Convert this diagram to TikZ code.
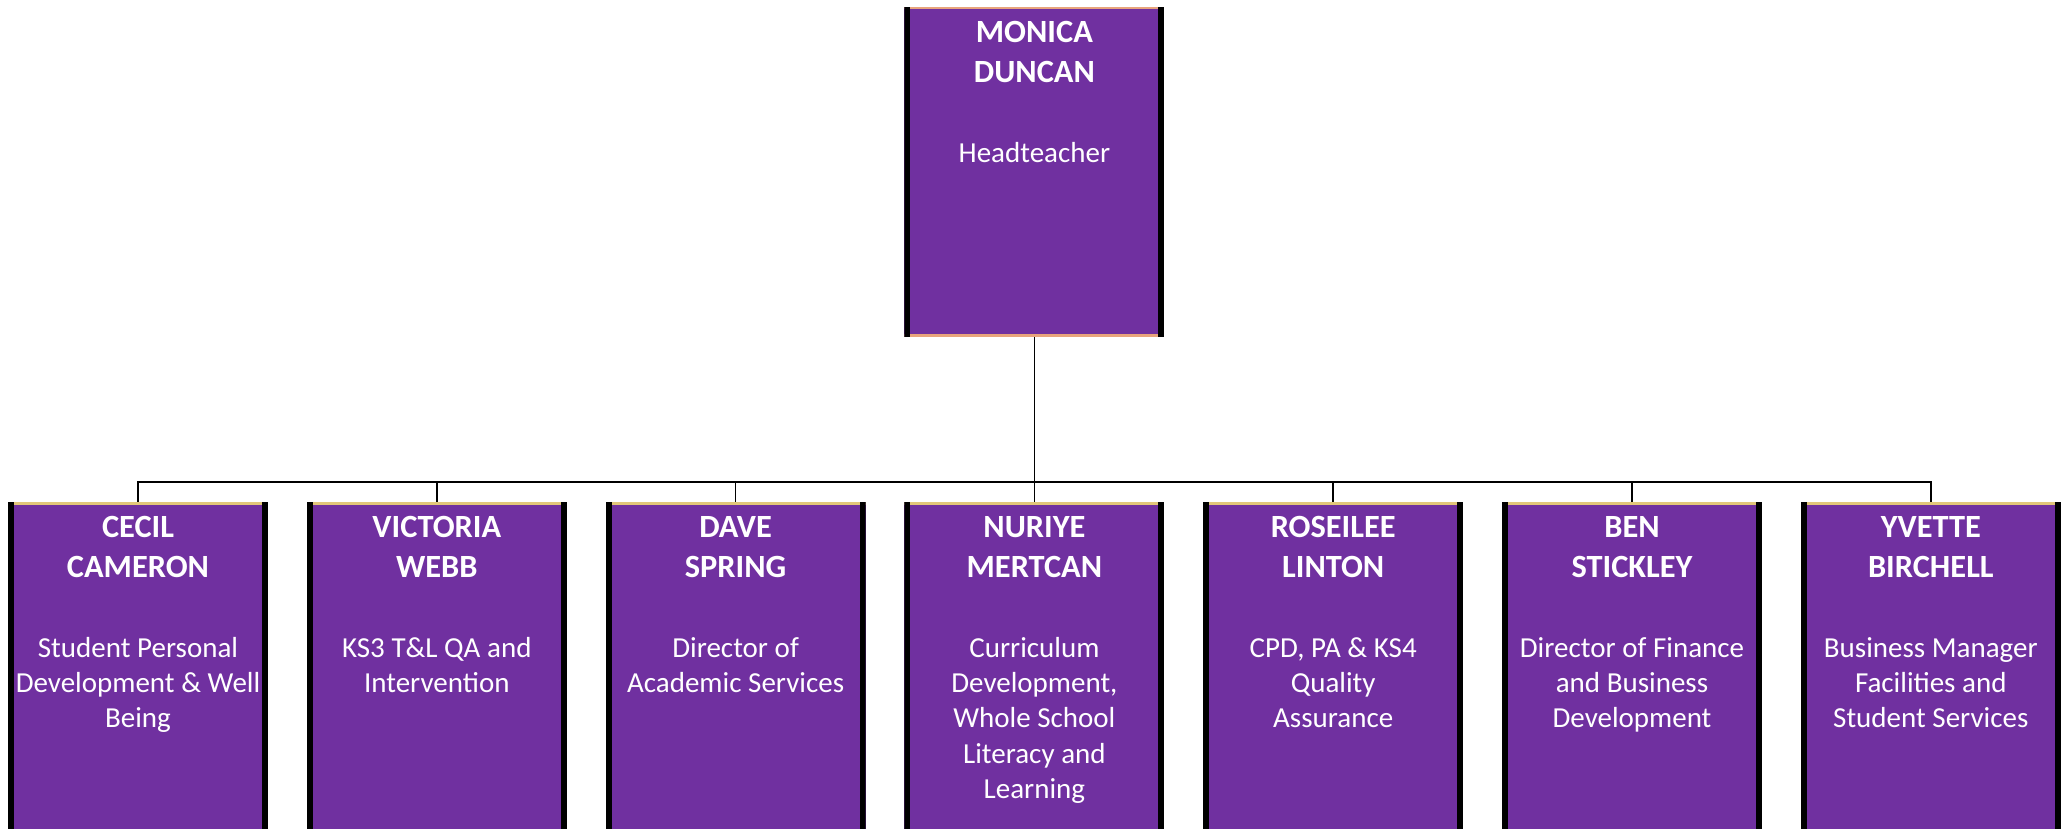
\documentclass[tikz,border=0pt]{standalone}
\usepackage{fontspec}
\setmainfont{Carlito}
\definecolor{boardpurple}{RGB}{112,48,160}
\definecolor{headedge}{RGB}{232,164,124}
\definecolor{staffedge}{RGB}{226,198,122}
\usetikzlibrary{positioning}
\newcommand{\cardname}[2]{{\bfseries\fontsize{16.2pt}{20pt}\selectfont #1\\#2\par}\vspace{22.5pt}}
\newcommand{\cardrole}[1]{{\fontsize{14.5pt}{17.6pt}\selectfont #1\par}}

\begin{document}
\begin{tikzpicture}[node distance=19pt,
  card/.style={fill=boardpurple,text=white,text width=130pt,align=center,inner sep=0pt,text height=17.5pt},
  staff/.style={card,text depth=182.5pt,path picture={
    \fill[staffedge] (path picture bounding box.north west) rectangle ([yshift=-1.5pt]path picture bounding box.north east);
    \fill[black] (path picture bounding box.north west) rectangle ([xshift=3pt]path picture bounding box.south west);
    \fill[black] (path picture bounding box.north east) rectangle ([xshift=-3pt]path picture bounding box.south east);}},
  head/.style={card,text height=18pt,text depth=147pt,path picture={
    \fill[headedge] (path picture bounding box.north west) rectangle ([yshift=-1.2pt]path picture bounding box.north east);
    \fill[headedge] (path picture bounding box.south west) rectangle ([yshift=1.5pt]path picture bounding box.south east);
    \fill[black] (path picture bounding box.north west) rectangle ([xshift=3pt]path picture bounding box.south west);
    \fill[black] (path picture bounding box.north east) rectangle ([xshift=-3pt]path picture bounding box.south east);}},
  link/.style={draw=black,line width=0.85pt}]
\useasboundingbox (0,0) rectangle (1031.5pt,414.5pt);
\clip (0,0) rectangle (1031.5pt,414.5pt);
% second row
\node[staff,anchor=north] (cecil) at (69pt,163.5pt) {\cardname{CECIL}{CAMERON}\cardrole{Student Personal\\Development \& Well\\Being}};
\node[staff,right=of cecil] (victoria) {\cardname{VICTORIA}{WEBB}\cardrole{KS3 T\&L QA and\\Intervention}};
\node[staff,right=of victoria] (dave) {\cardname{DAVE}{SPRING}\cardrole{Director of\\Academic Services}};
\node[staff,right=of dave] (nuriye) {\cardname{NURIYE}{MERTCAN}\cardrole{Curriculum\\Development,\\Whole School\\Literacy and\\Learning}};
\node[staff,right=of nuriye] (roseilee) {\cardname{ROSEILEE}{LINTON}\cardrole{CPD, PA \& KS4\\Quality\\Assurance}};
\node[staff,right=of roseilee] (ben) {\cardname{BEN}{STICKLEY}\cardrole{Director of Finance\\and Business\\Development}};
\node[staff,right=of ben] (yvette) {\cardname{YVETTE}{BIRCHELL}\cardrole{Business Manager\\Facilities and\\Student Services}};
% headteacher
\node[head,above=82.5pt of nuriye] (monica) {\cardname{MONICA}{DUNCAN}\cardrole{Headteacher}};
\coordinate (bus) at ([yshift=-72.5pt]monica.south);
\draw[link] (monica.south) -- (bus);
\draw[link] (bus) -| (cecil.north);
\draw[link] (bus) -| (victoria.north);
\draw[link] (bus) -| (dave.north);
\draw[link] (bus) -- (nuriye.north);
\draw[link] (bus) -| (roseilee.north);
\draw[link] (bus) -| (ben.north);
\draw[link] (bus) -| (yvette.north);
\end{tikzpicture}
\end{document}
